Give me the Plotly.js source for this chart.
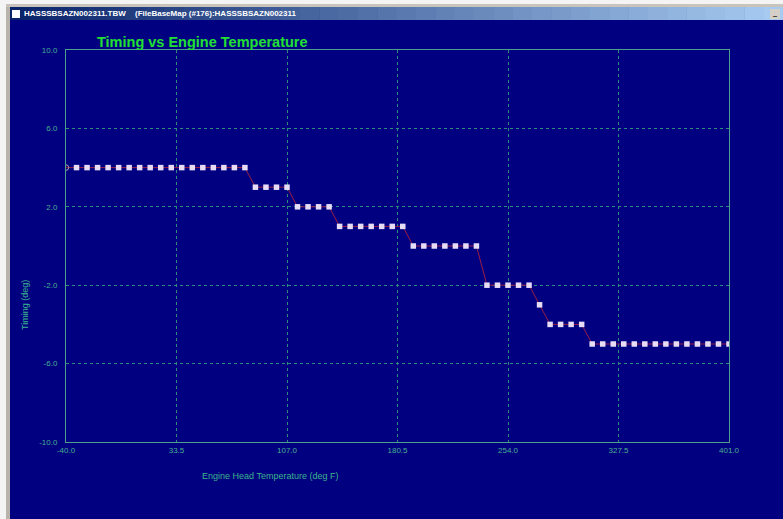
<!DOCTYPE html>
<html>
<head>
<meta charset="utf-8">
<script src="https://cdn.plot.ly/plotly-3.0.1.min.js"></script>
<style>
html,body{margin:0;padding:0;background:#000080;overflow:hidden;}
#chart{width:783px;height:519px;}
</style>
</head>
<body>
<div id="chart"></div>
<script>
// Engine head temperature (deg F)
var temps = [-40,-33,-26,-19,-12,-5,2,9,16,23,30,37,44,51,58,65,72,79,
  86,93,100,107,
  114,121,128,135,
  142,149,156,163,170,177,184,
  191,198,205,212,219,226,233,
  240,247,254,261,268,
  275,
  282,289,296,303,
  310,317,324,331,338,345,352,359,366,373,380,387,394,401];
// Timing (deg)
var timing = [4,4,4,4,4,4,4,4,4,4,4,4,4,4,4,4,4,4,
  3,3,3,3,
  2,2,2,2,
  1,1,1,1,1,1,1,
  0,0,0,0,0,0,0,
  -2,-2,-2,-2,-2,
  -3,
  -4,-4,-4,-4,
  -5,-5,-5,-5,-5,-5,-5,-5,-5,-5,-5,-5,-5,-5];
var xTicks = [-40.0, 33.5, 107.0, 180.5, 254.0, 327.5, 401.0];
var yTicks = [-10.0, -6.0, -2.0, 2.0, 6.0, 10.0];

var W = 783, H = 519, L = 66, R = 54, T = 50, B = 77;
var pw = W - L - R, ph = H - T - B;
function px(x){ return (x - L) / pw; }
function py(y){ return (H - B - y) / ph; }

var symbols = temps.map(function(_, i){ return i === 0 ? 'circle-open' : 'square'; });
var mcolors = temps.map(function(_, i){ return i === 0 ? '#a0a0a8' : '#e6dcf6'; });

var trace = {
  x: temps, y: timing, type: 'scatter', mode: 'lines+markers',
  line: {color: '#9a1e46', width: 1},
  marker: {symbol: symbols, size: 5.5, color: mcolors, line: {width: 0}},
  hoverinfo: 'x+y'
};

var shapes = [];
// window chrome: top and left borders
shapes.push({type:'rect', xref:'paper', yref:'paper', x0:px(0), x1:px(W), y0:py(4), y1:py(0), fillcolor:'#f4f4f4', line:{width:0}, layer:'below'});
shapes.push({type:'rect', xref:'paper', yref:'paper', x0:px(0), x1:px(W), y0:py(7), y1:py(4), fillcolor:'#c8c4bc', line:{width:0}, layer:'below'});
shapes.push({type:'rect', xref:'paper', yref:'paper', x0:px(0), x1:px(6), y0:py(H), y1:py(4), fillcolor:'#f4f4f4', line:{width:0}, layer:'below'});
shapes.push({type:'rect', xref:'paper', yref:'paper', x0:px(6), x1:px(10), y0:py(H), y1:py(7), fillcolor:'#b8b4ac', line:{width:0}, layer:'below'});
// title bar gradient
var c0 = [10,36,106], c1 = [166,202,240];
var n = 40, x0 = 10, x1 = W;
for (var i = 0; i < n; i++) {
  var t = i / (n - 1);
  var c = c0.map(function(v, k){ return Math.round(v + (c1[k] - v) * t); });
  shapes.push({type:'rect', xref:'paper', yref:'paper',
    x0: px(x0 + (x1 - x0) * i / n), x1: px(x0 + (x1 - x0) * (i + 1) / n + 0.5),
    y0: py(20), y1: py(7), fillcolor: 'rgb(' + c.join(',') + ')', line:{width:0}, layer:'below'});
}
// title bar icon and button
shapes.push({type:'rect', xref:'paper', yref:'paper', x0:px(12), x1:px(20), y0:py(18), y1:py(10), fillcolor:'#ffffff', line:{width:0}, layer:'below'});
shapes.push({type:'rect', xref:'paper', yref:'paper', x0:px(770), x1:px(780), y0:py(19), y1:py(9), fillcolor:'#d4d0c8', line:{width:0}, layer:'below'});

var annotations = [
  {text:'<b>Timing vs Engine Temperature</b>', xref:'paper', yref:'paper', x:px(95), y:py(42), xanchor:'left', yanchor:'middle', showarrow:false,
   font:{family:'Liberation Sans, Arial, sans-serif', size:14.5, color:'#22e032'}},
  {text:'Engine Head Temperature (deg F)', xref:'paper', yref:'paper', x:px(270), y:py(476), xanchor:'center', yanchor:'middle', showarrow:false,
   font:{family:'Liberation Sans, Arial, sans-serif', size:9, color:'#3cb48c'}},
  {text:'Timing (deg)', xref:'paper', yref:'paper', x:px(25), y:py(305), xanchor:'center', yanchor:'middle', showarrow:false, textangle:-90,
   font:{family:'Liberation Sans, Arial, sans-serif', size:9, color:'#3cb48c'}},
  {text:'<b>HASSSBSAZN002311.TBW</b>', xref:'paper', yref:'paper', x:px(22), y:py(13.5), xanchor:'left', yanchor:'middle', showarrow:false,
   font:{family:'Liberation Sans, Arial, sans-serif', size:8, color:'#ffffff'}},
  {text:'<b>(FileBaseMap (#176):HASSSBSAZN002311</b>', xref:'paper', yref:'paper', x:px(133), y:py(13.5), xanchor:'left', yanchor:'middle', showarrow:false,
   font:{family:'Liberation Sans, Arial, sans-serif', size:8, color:'#ffffff'}},
  {text:'_', xref:'paper', yref:'paper', x:px(775), y:py(13), xanchor:'center', yanchor:'middle', showarrow:false,
   font:{family:'DejaVu Sans, sans-serif', size:8, color:'#000000'}}
];

var tickFont = {family:'Liberation Sans, Arial, sans-serif', size:8, color:'#4ab090'};

var layout = {
  width: W, height: H,
  margin: {l: L, r: R, t: T, b: B, pad: 0},
  paper_bgcolor: '#000080', plot_bgcolor: '#000080',
  showlegend: false,
  xaxis: {
    range: [-40, 401], tickvals: xTicks, ticktext: xTicks.map(function(v){ return v.toFixed(1); }),
    showgrid: true, gridcolor: '#2e8c7e', griddash: 'dot', gridwidth: 1,
    showline: true, linecolor: '#4aa08a', linewidth: 1, mirror: true,
    zeroline: false, ticks: '', tickfont: tickFont, fixedrange: true
  },
  yaxis: {
    range: [-10, 10], tickvals: yTicks, ticktext: yTicks.map(function(v){ return v.toFixed(1); }),
    showgrid: true, gridcolor: '#2e8c7e', griddash: 'dot', gridwidth: 1,
    showline: true, linecolor: '#4aa08a', linewidth: 1, mirror: true,
    zeroline: false, ticks: '', tickfont: tickFont, ticklabelstandoff: 6, fixedrange: true
  },
  shapes: shapes,
  annotations: annotations
};

Plotly.newPlot('chart', [trace], layout, {displayModeBar: false, staticPlot: true});
</script>
</body>
</html>
